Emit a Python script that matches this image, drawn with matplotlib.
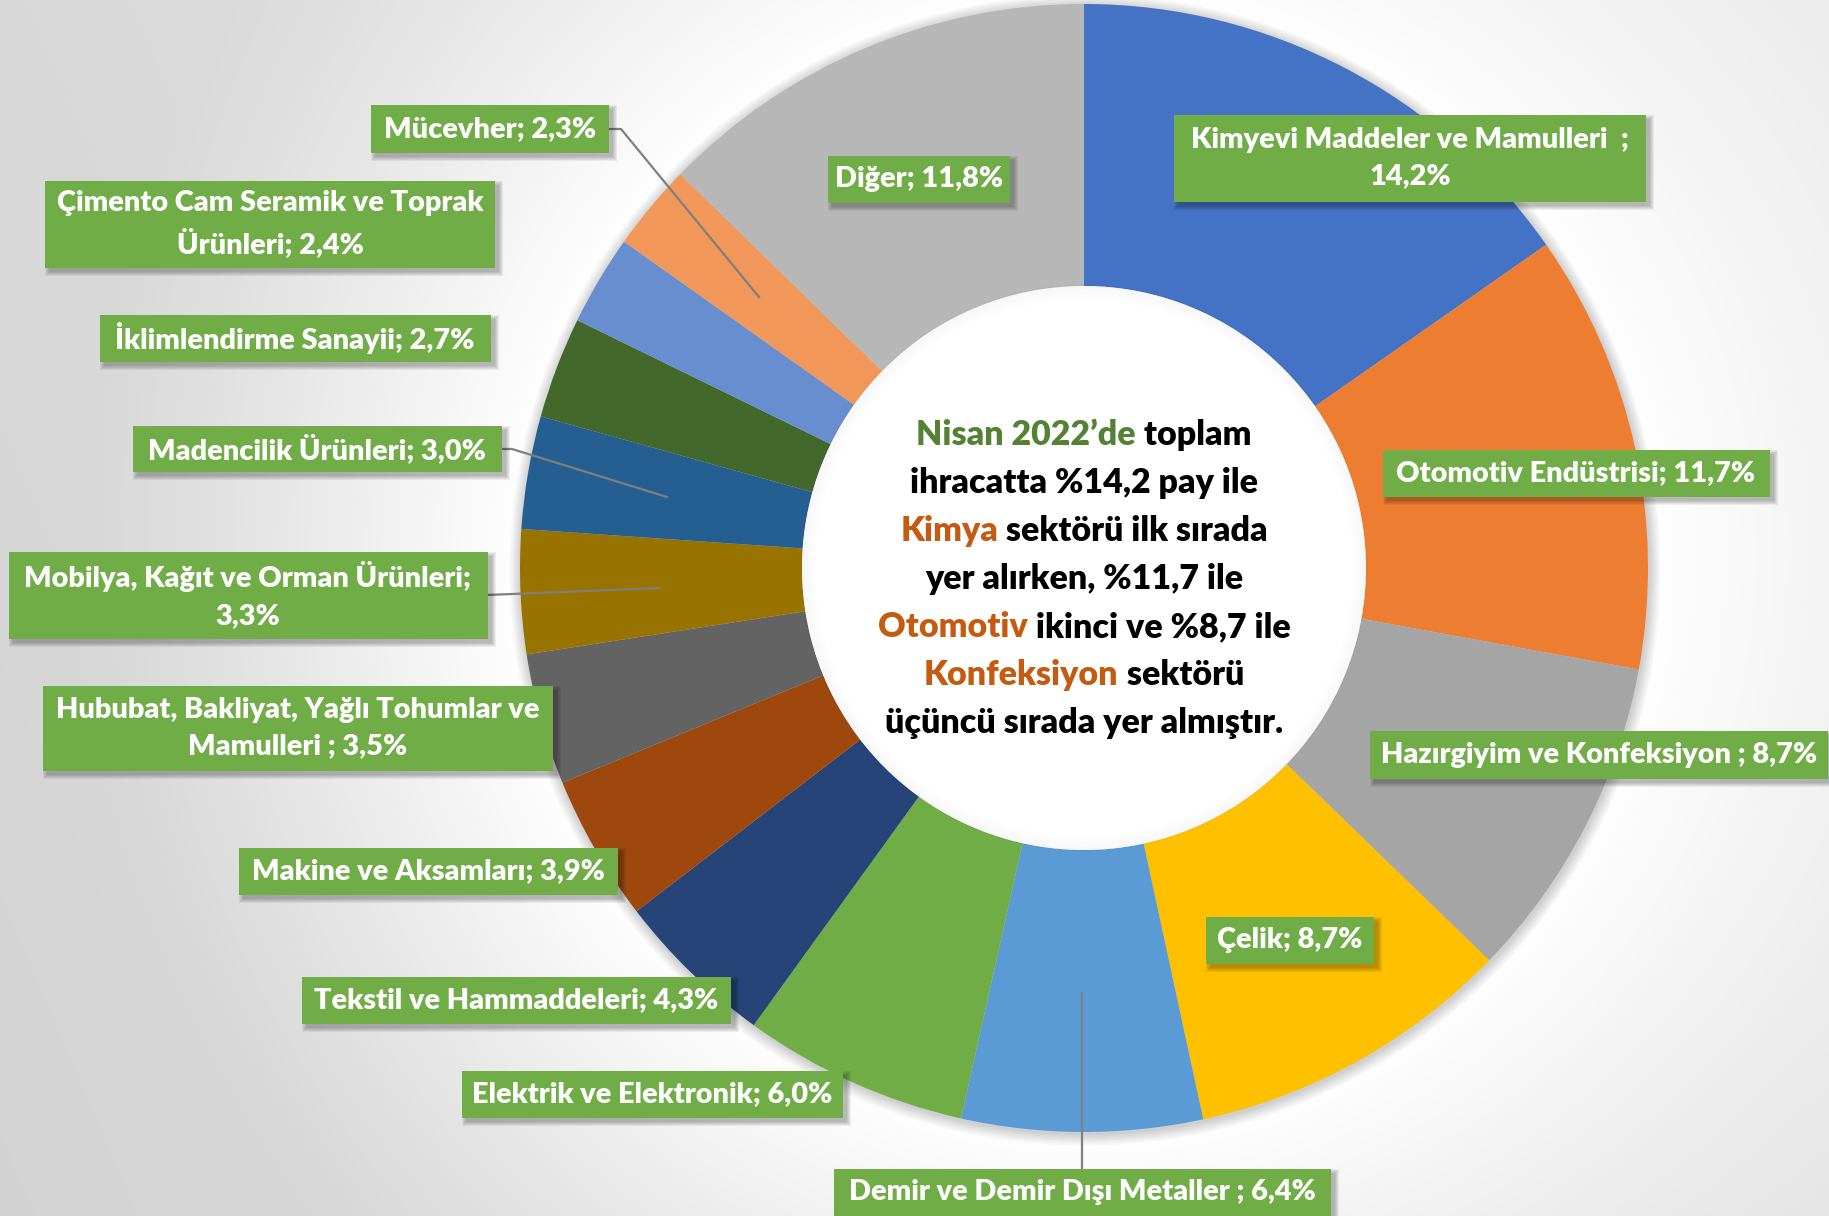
import numpy as np
import matplotlib.pyplot as plt
from matplotlib.patches import Rectangle, Circle

W, H = 1829, 1216

# sector shares (April 2022 exports), clockwise from the top
sectors = [
    "Kimyevi Maddeler ve Mamulleri  ", "Otomotiv Endüstrisi", "Hazırgiyim ve Konfeksiyon ",
    "Çelik", "Demir ve Demir Dışı Metaller ", "Elektrik ve Elektronik",
    "Tekstil ve Hammaddeleri", "Makine ve Aksamları", "Hububat, Bakliyat, Yağlı Tohumlar ve\nMamulleri ",
    "Mobilya, Kağıt ve Orman Ürünleri", "Madencilik Ürünleri", "İklimlendirme Sanayii",
    "Çimento Cam Seramik ve Toprak\nÜrünleri", "Mücevher", "Diğer",
]
shares = [14.2, 11.7, 8.7, 8.7, 6.4, 6.0, 4.3, 3.9, 3.5, 3.3, 3.0, 2.7, 2.4, 2.3, 11.8]
after_semicolon = ["\n", " ", " ", " ", " ", " ", " ", " ", " ", "\n", " ", " ", " ", " ", " "]
slice_colors = [
    "#4472C4", "#ED7D31", "#A5A5A5", "#FFC000", "#5B9BD5", "#70AD47", "#264478", "#9E480E",
    "#636363", "#997300", "#255E91", "#43682B", "#698ED0", "#F1975A", "#B7B7B7",
]

# label boxes in image pixels: centre x, centre y, width, height
box_cx = [1410, 1576, 1599, 1290, 1082, 652, 516, 428, 298, 248, 317, 295, 270, 490, 919]
box_cy = [158, 473, 755, 940, 1192, 1094, 1000, 871, 728, 595, 449, 338, 224, 129, 179]
box_w = [472, 387, 458, 168, 497, 381, 429, 379, 510, 479, 369, 391, 450, 238, 182]
box_h = [87, 47, 48, 47, 47, 47, 47, 47, 85, 87, 46, 47, 87, 48, 47]

# leader lines (image pixels)
leaders = {
    13: [(609, 129), (621, 129), (759, 297)],
    10: [(501, 449), (512, 449), (667, 497)],
    9: [(487, 595), (660, 588)],
    4: [(1082, 1169), (1082, 993)],
}

center_lines = [
    [("Nisan 2022’de", "#548235"), (" toplam", "black")],
    [("ihracatta %14,2 pay ile", "black")],
    [("Kimya", "#C55A11"), (" sektörü ilk sırada", "black")],
    [("yer alırken, %11,7 ile", "black")],
    [("Otomotiv", "#C55A11"), (" ikinci ve %8,7 ile", "black")],
    [("Konfeksiyon", "#C55A11"), (" sektörü", "black")],
    [("üçüncü sırada yer almıştır.", "black")],
]

CX, CY, R = 1084, 568, 564
FONT = ["Lato", "DejaVu Sans"]


def fy(y):
    return H - y


fig = plt.figure(figsize=(W / 100, H / 100), dpi=100)
ax = fig.add_axes([0, 0, 1, 1])

# background: grey with a white glow round the ring
yy, xx = np.mgrid[0:H, 0:W]
base = 0.85 + 0.07 * xx / W - 0.02 * yy / H
rr = np.hypot(xx - CX, yy - CY)
glow = np.clip(1 - (rr - R) / 450, 0, 1) ** 1.3
bg = base + (1 - base) * glow
ax.imshow(np.dstack([bg, bg, bg]), extent=(0, W, 0, H), origin="upper", zorder=0)

# soft shadow outside the ring
for k in range(8):
    ax.add_patch(Circle((CX + 1, fy(CY) - 2), R + 1 + k * 1.5, color="k", alpha=0.025, lw=0, zorder=1))

ax.pie(shares, colors=slice_colors, startangle=90, counterclock=False,
       radius=R, center=(CX, fy(CY)),
       wedgeprops=dict(width=R / 2, edgecolor="none"))
for w in ax.patches[-len(shares):]:
    w.set_zorder(2)

# hole with faint inner shadow
ax.add_patch(Circle((CX, fy(CY)), R / 2, color="white", lw=0, zorder=3))
for k in range(10):
    ax.add_patch(Circle((CX, fy(CY)), R / 2 - k * 1.6, fc="none", ec="#000000",
                        lw=2, alpha=0.018 * (10 - k) / 10, zorder=3))

for i, pts in leaders.items():
    ax.plot([p[0] for p in pts], [fy(p[1]) for p in pts], color="#7F7F7F", lw=1.6, zorder=4)

for i in range(len(sectors)):
    val = f"{shares[i]:.1f}".replace(".", ",")
    label = f"{sectors[i]};{after_semicolon[i]}{val}%"
    x0 = box_cx[i] - box_w[i] / 2
    y0 = fy(box_cy[i] + box_h[i] / 2)
    for k in range(5):
        g = 4 - k
        ax.add_patch(Rectangle((x0 + 4 - g, y0 - 4 - g), box_w[i] + 2 * g, box_h[i] + 2 * g,
                               color="k", alpha=0.06, lw=0, zorder=5))
    ax.add_patch(Rectangle((x0, y0), box_w[i], box_h[i], color="#70AD47", lw=0, zorder=6))
    ax.text(box_cx[i], fy(box_cy[i]), label, ha="center", va="center", color="white",
            fontsize=20.8, fontweight="heavy", family=FONT, linespacing=1.5, zorder=7)

# centre text with coloured words
renderer = fig.canvas.get_renderer()
line_y0, line_step = 432, 48
for j, segs in enumerate(center_lines):
    texts, widths = [], []
    for s, c in segs:
        t = ax.text(0, fy(line_y0 + j * line_step), s, ha="left", va="center_baseline",
                    color=c, fontsize=24.5, fontweight="heavy", family=FONT, zorder=8)
        texts.append(t)
        widths.append(t.get_window_extent(renderer).width)
    x = CX - sum(widths) / 2
    for t, wd in zip(texts, widths):
        t.set_x(x)
        x += wd

ax.set_xlim(0, W)
ax.set_ylim(0, H)
ax.set_aspect("auto")
ax.axis("off")
fig.savefig("out.png", dpi=100)
